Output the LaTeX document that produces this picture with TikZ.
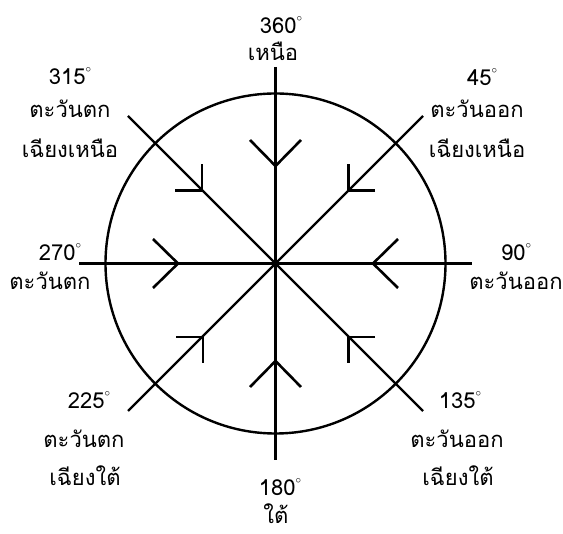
\documentclass[tikz,border=0pt]{standalone}
\usepackage{fontspec}
\newfontfamily\thaifont[Script=Thai]{Loma}
\newcommand{\dg}{\raisebox{0.55em}{\fontsize{11}{11}\selectfont$\circ$}}
\begin{document}
\begin{tikzpicture}[x=1pt,y=-1pt,
  ln/.style={line width=2.4pt},
  wing/.style={line width=2.6pt},
  lbl/.style={font=\thaifont\fontsize{22}{24}\selectfont, inner sep=0pt, anchor=center}]
\useasboundingbox (0,0) rectangle (563,534);
\coordinate (c) at (275.5,263.5);
% circle
\draw[ln] (c) circle[radius=170];
% main lines
\coordinate (n) at (275.5,67);
\coordinate (s) at (275.5,460);
\coordinate (w) at (79,263.5);
\coordinate (e) at (472,263.5);
\coordinate (nw) at (128,116);
\coordinate (ne) at (423,116);
\coordinate (sw) at (128,411);
\coordinate (se) at (423,411);
\draw[ln] (n) -- (s);
\draw[ln] (w) -- (e);
\draw[ln] (nw) -- (se);
\draw[ln] (ne) -- (sw);
% straight arrowheads
\draw[wing] (250,140) -- (275.5,166) -- (301,140);
\draw[wing] (250,387) -- (275.5,361) -- (301,387);
\draw[wing] (153,239) -- (178,263.5) -- (153,288);
\draw[wing] (398,239) -- (373,263.5) -- (398,288);
% diagonal arrowheads
\draw[wing] (175,190.5) -- (202,190.5) -- (202,164);
\draw[wing] (375,190.5) -- (348.5,190.5) -- (348.5,164);
\draw[wing] (176,337) -- (203,337) -- (203,363);
\draw[wing] (375,337) -- (348.5,337) -- (348.5,363);
% labels
\node[lbl] (l360) at (281,25) {360\dg};
\node[lbl] (lnorth) at (273,51) {เหนือ};
\node[lbl] (l315) at (70,76) {315\dg};
\node[lbl] (l315a) at (70,109) {ตะวันตก};
\node[lbl] (l315b) at (70,148) {เฉียงเหนือ};
\node[lbl] (l45) at (482,77) {45\dg};
\node[lbl] (l45a) at (477,109) {ตะวันออก};
\node[lbl] (l45b) at (477,148) {เฉียงเหนือ};
\node[lbl] (l270) at (60,252) {270\dg};
\node[lbl] (l270a) at (50,281) {ตะวันตก};
\node[lbl] (l90) at (516,252) {90\dg};
\node[lbl] (l90a) at (516,281) {ตะวันออก};
\node[lbl] (l225) at (89,400) {225\dg};
\node[lbl] (l225a) at (84,439) {ตะวันตก};
\node[lbl] (l225b) at (85,476) {เฉียงใต้};
\node[lbl] (l135) at (460,400) {135\dg};
\node[lbl] (l135a) at (457,439) {ตะวันออก};
\node[lbl] (l135b) at (458,476) {เฉียงใต้};
\node[lbl] (l180) at (280,487) {180\dg};
\node[lbl] (lsouth) at (276,514) {ใต้};
\end{tikzpicture}
\end{document}
